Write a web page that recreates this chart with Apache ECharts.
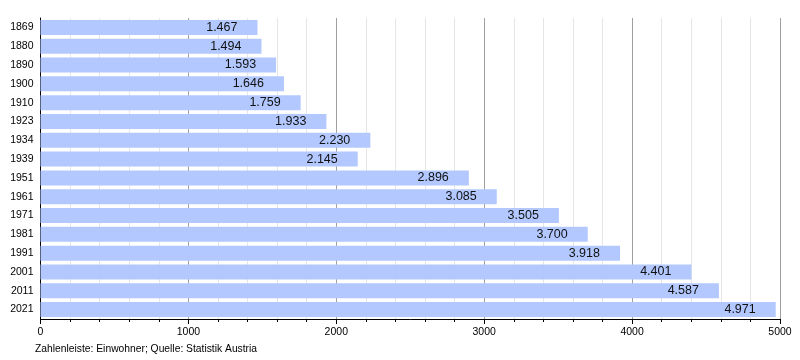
<!DOCTYPE html>
<html><head><meta charset="utf-8">
<script src="https://cdn.jsdelivr.net/npm/echarts@6/dist/echarts.min.js"></script>
<style>html,body{margin:0;padding:0;background:#fff}#c{width:800px;height:360px}</style>
</head><body><div id="c"></div>
<script>
const years = ['1869','1880','1890','1900','1910','1923','1934','1939','1951','1961','1971','1981','1991','2001','2011','2021'];
const population = [1467,1494,1593,1646,1759,1933,2230,2145,2896,3085,3505,3700,3918,4401,4587,4971];
const xTicks = [0,1000,2000,3000,4000,5000];
const caption = 'Zahlenleiste: Einwohner; Quelle: Statistik Austria';

const fmt = v => {
  const s = String(Math.round(v));
  return s.replace(/\B(?=(\d{3})+(?!\d))/g, '.');
};
const chart = echarts.init(document.getElementById('c'), null, {renderer:'canvas'});
chart.setOption({
  animation:false,
  textStyle:{fontFamily:'Liberation Sans, Arial, sans-serif'},
  grid:{left:40.5,right:20,top:18,height:301,containLabel:false},
  graphic:[{type:'text',left:35,top:344,style:{text:caption,font:'10.3px "Liberation Sans", Arial, sans-serif',fill:'#000'}}],
  xAxis:{
    type:'value',min:xTicks[0],max:xTicks[xTicks.length-1],interval:1000,
    axisLine:{show:true,lineStyle:{color:'#000',width:1}},
    axisTick:{show:true,length:5,lineStyle:{color:'#000'}},
    minorTick:{show:true,splitNumber:5,length:3,lineStyle:{color:'#000'}},
    splitLine:{show:true,lineStyle:{color:'#a0a0a0',width:1}},
    minorSplitLine:{show:true,lineStyle:{color:'#e6e6e6',width:1}},
    axisLabel:{color:'#000',fontSize:10.5,margin:8,formatter:v=>String(v)}
  },
  yAxis:{
    type:'category',data:years,inverse:true,
    axisLine:{show:true,lineStyle:{color:'#000'}},
    axisTick:{show:false},
    axisLabel:{color:'#000',fontSize:10.5,margin:7},
    splitLine:{show:false}
  },
  series:[{
    type:'bar',data:population,barCategoryGap:'20%',
    itemStyle:{color:'#b2c8ff'},
    label:{show:true,position:'insideRight',distance:20,color:'#111',fontSize:12.5,formatter:p=>fmt(p.value)}
  }]
});
</script></body></html>
